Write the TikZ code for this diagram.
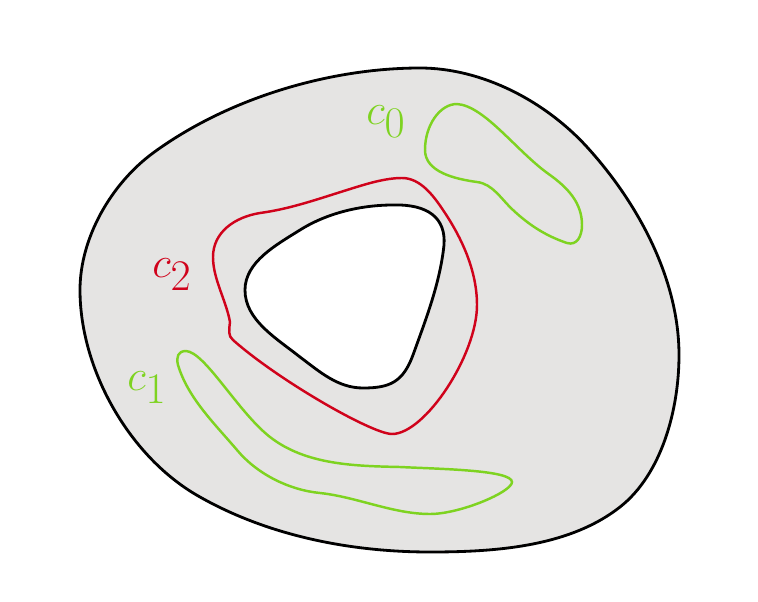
\documentclass[tikz,border=0pt]{standalone}
\definecolor{regiongray}{HTML}{E5E4E3}
\definecolor{loopgreen}{HTML}{7ED321}
\definecolor{loopred}{HTML}{D0021B}
\begin{document}
\begin{tikzpicture}[x=0.02cm, y=-0.02cm,
    boundary/.style={draw=black, line width=1.6pt},
    loop/.style={line width=1.4pt},
    lbl/.style={font=\fontsize{34}{40}\selectfont}]
    \useasboundingbox (0,0) rectangle (758,602);
    % region with a hole
    \filldraw[boundary, fill=regiongray] (420,68)
        .. controls (482,68) and (545,101) .. (587,147)
        .. controls (638,203) and (679,279) .. (679,355)
        .. controls (679,409) and (662,474) .. (620,507)
        .. controls (569,547) and (495,552) .. (430,552)
        .. controls (351,552) and (269,536) .. (200,497)
        .. controls (130,458) and (80,370) .. (80,290)
        .. controls (80,238) and (111,184) .. (153,153)
        .. controls (228,98) and (330,68) .. cycle;
    \filldraw[boundary, fill=white] (393,205)
        .. controls (428,204) and (446,218) .. (444,245)
        .. controls (440,283) and (426,319) .. (413,355)
        .. controls (403,382) and (390,388) .. (363,388)
        .. controls (338,388) and (320,372) .. (300,357)
        .. controls (276,338) and (245,320) .. (245,290)
        .. controls (245,262) and (276,245) .. (300,230)
        .. controls (327,213) and (361,205) .. cycle;
    % loops
    \draw[loop, loopgreen] (457,104)
        .. controls (485,106) and (517,152) .. (550,175)
        .. controls (568,188) and (582,203) .. (582,225)
        .. controls (582,236) and (577,246) .. (567,243)
        .. controls (546,236) and (529,225) .. (513,210)
        .. controls (501,199) and (493,184) .. (477,182)
        .. controls (455,179) and (425,172) .. (425,150)
        .. controls (425,125) and (440,104) .. cycle;
    \draw[loop, loopgreen] (186,351)
        .. controls (205,352) and (238,412) .. (270,437)
        .. controls (306,465) and (355,466) .. (400,467)
        .. controls (440,469) and (512,470) .. (512,482)
        .. controls (512,492) and (460,514) .. (430,514)
        .. controls (393,514) and (357,497) .. (320,493)
        .. controls (289,490) and (257,474) .. (237,450)
        .. controls (214,423) and (188,398) .. (178,365)
        .. controls (176,357) and (178,351) .. cycle;
    \draw[loop, loopred] (402,178)
        .. controls (420,178) and (433,195) .. (443,210)
        .. controls (462,238) and (477,271) .. (477,305)
        .. controls (477,355) and (425,434) .. (392,434)
        .. controls (372,434) and (278,380) .. (233,340)
        .. controls (228,336) and (229,330) .. (230,322)
        .. controls (226,300) and (213,279) .. (213,257)
        .. controls (213,232) and (235,217) .. (260,213)
        .. controls (290,209) and (318,199) .. (347,190)
        .. controls (366,184) and (385,178) .. cycle;
    % labels
    \node[lbl, text=loopgreen] (czero) at (386,122) {$c_0$};
    \node[lbl, text=loopgreen] (cone) at (147,388) {$c_1$};
    \node[lbl, text=loopred] (ctwo) at (172,275) {$c_2$};
\end{tikzpicture}
\end{document}
